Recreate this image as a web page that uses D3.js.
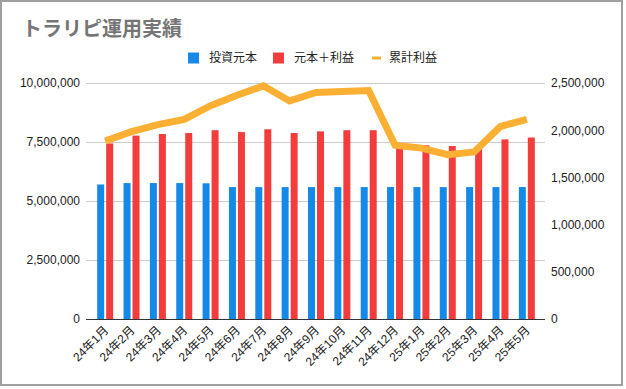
<!DOCTYPE html>
<html>
<head>
<meta charset="utf-8">
<script src="https://cdn.jsdelivr.net/npm/d3@7"></script>
<style>
  body { margin: 0; background: #fff; }
  text { font-family: "Liberation Sans", Arial, "Noto Sans CJK JP", sans-serif; }
</style>
</head>
<body>
<script>
// data
var months = ["24年1月", "24年2月", "24年3月", "24年4月", "24年5月", "24年6月", "24年7月", "24年8月",
  "24年9月", "24年10月", "24年11月", "24年12月", "25年1月", "25年2月", "25年3月", "25年4月", "25年5月"];
var principal = [5700000, 5760000, 5760000, 5760000, 5750000, 5590000, 5590000, 5590000,
  5590000, 5590000, 5590000, 5590000, 5590000, 5590000, 5590000, 5590000, 5590000];
var principalProfit = [7440000, 7770000, 7840000, 7880000, 8000000, 7920000, 8040000, 7880000,
  7950000, 8000000, 8000000, 7350000, 7360000, 7330000, 7200000, 7610000, 7690000];
var cumProfit = [1886000, 1984000, 2060000, 2115000, 2260000, 2370000, 2470000, 2310000,
  2400000, 2410000, 2420000, 1840000, 1810000, 1740000, 1770000, 2040000, 2115000];
var leftTicks = [0, 2500000, 5000000, 7500000, 10000000];
var rightTicks = [0, 500000, 1000000, 1500000, 2000000, 2500000];
var seriesNames = ["投資元本", "元本＋利益", "累計利益"];

var width = 626, height = 389;
var colBlue = "#1589e8", colRed = "#f33c3c", colOrange = "#fbb034";
var fmt = d3.format(",");

var svg = d3.select("body").append("svg")
    .attr("width", width)
    .attr("height", height);

// frame
svg.append("rect")
    .attr("x", 1).attr("y", 1)
    .attr("width", 621).attr("height", 384)
    .attr("fill", "#fff")
    .attr("stroke", "#a0a0a0")
    .attr("stroke-width", 2);

// title
svg.append("text")
    .attr("x", 22).attr("y", 36)
    .attr("font-size", 20)
    .attr("font-weight", "bold")
    .attr("fill", "#757575")
    .style("font-family", "'Noto Sans CJK JP', sans-serif")
    .text("トラリピ運用実績");

// scales
var plotLeft = 86, plotRight = 545, plotTop = 83, plotBottom = 319;
var x = d3.scaleBand().domain(months).range([92, 540]);
var yL = d3.scaleLinear().domain([0, 10000000]).range([plotBottom, plotTop]);
var yR = d3.scaleLinear().domain([0, 2500000]).range([plotBottom, plotTop]);
var barW = 7, gap = 2;

// gridlines + left axis
var gl = svg.append("g")
    .attr("transform", "translate(" + plotLeft + ",0)")
    .call(d3.axisLeft(yL).tickValues(leftTicks).tickFormat(fmt)
      .tickSize(-(plotRight - plotLeft)).tickPadding(6));
gl.select(".domain").remove();
gl.selectAll(".tick line").attr("stroke", "#cccccc");
gl.selectAll(".tick text").attr("font-size", 12).attr("fill", "#222");

// right axis labels
var gr = svg.append("g")
    .attr("transform", "translate(" + plotRight + ",0)")
    .call(d3.axisRight(yR).tickValues(rightTicks).tickFormat(fmt).tickSize(0).tickPadding(6));
gr.select(".domain").remove();
gr.selectAll(".tick text").attr("font-size", 12).attr("fill", "#222");

// bars
svg.append("g").selectAll("rect")
    .data(principal)
    .enter().append("rect")
      .attr("x", function(d, i) { return x(months[i]) + x.bandwidth() / 2 - gap / 2 - barW; })
      .attr("y", function(d) { return yL(d); })
      .attr("width", barW)
      .attr("height", function(d) { return plotBottom - yL(d); })
      .attr("fill", colBlue);

svg.append("g").selectAll("rect")
    .data(principalProfit)
    .enter().append("rect")
      .attr("x", function(d, i) { return x(months[i]) + x.bandwidth() / 2 + gap / 2; })
      .attr("y", function(d) { return yL(d); })
      .attr("width", barW)
      .attr("height", function(d) { return plotBottom - yL(d); })
      .attr("fill", colRed);

// baseline
svg.append("line")
    .attr("x1", plotLeft).attr("x2", plotRight)
    .attr("y1", plotBottom + 0.5).attr("y2", plotBottom + 0.5)
    .attr("stroke", "#333");

// cumulative profit line
var line = d3.line()
    .x(function(d, i) { return x(months[i]) + x.bandwidth() / 2; })
    .y(function(d) { return yR(d); });

svg.append("path")
    .datum(cumProfit)
    .attr("d", line)
    .attr("fill", "none")
    .attr("stroke", colOrange)
    .attr("stroke-width", 7)
    .attr("stroke-linejoin", "miter");

// x labels
svg.append("g").selectAll("text")
    .data(months)
    .enter().append("text")
      .attr("transform", function(d) {
        return "translate(" + (x(d) + x.bandwidth() / 2 + 4) + "," + (plotBottom + 12) + ") rotate(-45)";
      })
      .attr("text-anchor", "end")
      .attr("font-size", 12)
      .attr("fill", "#222")
      .text(function(d) { return d; });

// legend
var legend = [
  {name: seriesNames[0], color: colBlue, type: "rect", x: 188},
  {name: seriesNames[1], color: colRed, type: "rect", x: 273},
  {name: seriesNames[2], color: colOrange, type: "line", x: 372}
];
var lg = svg.append("g").selectAll("g")
    .data(legend)
    .enter().append("g")
      .attr("transform", function(d) { return "translate(" + d.x + ",58)"; });
lg.filter(function(d) { return d.type === "rect"; })
    .append("rect")
      .attr("x", 0).attr("y", -5.5)
      .attr("width", 11).attr("height", 11)
      .attr("fill", function(d) { return d.color; });
lg.filter(function(d) { return d.type === "line"; })
    .append("rect")
      .attr("x", 0).attr("y", -1.5)
      .attr("width", 9).attr("height", 3)
      .attr("fill", function(d) { return d.color; });
lg.append("text")
    .attr("x", function(d) { return d.type === "rect" ? 21 : 17; })
    .attr("dy", "0.35em")
    .attr("font-size", 12)
    .attr("fill", "#222")
    .style("font-family", "'Noto Sans CJK JP', sans-serif")
    .text(function(d) { return d.name; });
</script>
</body>
</html>
